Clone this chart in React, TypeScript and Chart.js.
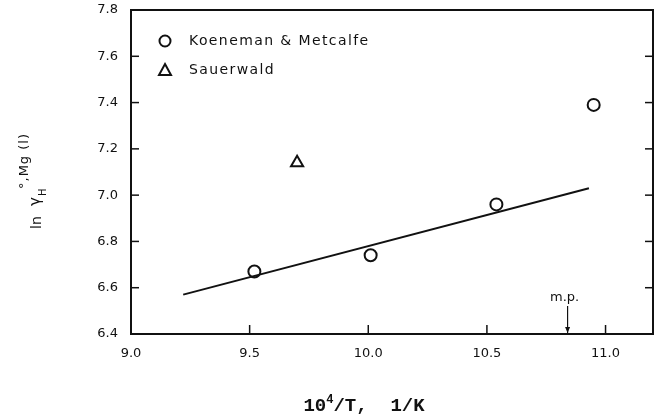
import { useEffect, useRef } from "react";
import { Chart, registerables } from "chart.js";

Chart.register(...registerables);

// ---- data ----
const X_TICKS = [9.0, 9.5, 10.0, 10.5, 11.0];
const Y_TICKS = [6.4, 6.6, 6.8, 7.0, 7.2, 7.4, 7.6, 7.8];
const X_MIN = 9.0;
const X_MAX = 11.2;
const Y_MIN = 6.4;
const Y_MAX = 7.8;

const SERIES_NAMES = ["Koeneman & Metcalfe", "Sauerwald"];
const KM_X = [9.52, 10.01, 10.54, 10.95];
const KM_Y = [6.67, 6.74, 6.96, 7.39];
const SAUER_X = [9.7];
const SAUER_Y = [7.14];
const FIT_X = [9.22, 10.93];
const FIT_Y = [6.57, 7.03];
const MELTING_POINT = 10.84;
const MP_LABEL = "m.p.";

const INK = "#111";

function pts(xs: number[], ys: number[]) {
  return xs.map((x, i) => ({ x, y: ys[i] }));
}

const decor = {
  id: "decor",
  afterDraw(chart: any) {
    const ctx: CanvasRenderingContext2D = chart.ctx;
    const a = chart.chartArea;
    const xs = chart.scales.x;
    const ys = chart.scales.y;
    const line = (x1: number, y1: number, x2: number, y2: number) => {
      ctx.beginPath();
      ctx.moveTo(x1, y1);
      ctx.lineTo(x2, y2);
      ctx.stroke();
    };
    ctx.save();
    ctx.strokeStyle = INK;
    ctx.fillStyle = INK;
    ctx.lineWidth = 2;
    ctx.strokeRect(a.left, a.top, a.right - a.left, a.bottom - a.top);

    // inward ticks
    ctx.lineWidth = 1.5;
    Y_TICKS.forEach((v) => {
      if (v <= Y_MIN || v >= Y_MAX) return;
      const y = ys.getPixelForValue(v);
      line(a.left, y, a.left + 8, y);
      line(a.right - 8, y, a.right, y);
    });
    X_TICKS.forEach((v) => {
      if (v <= X_MIN || v >= X_MAX) return;
      const x = xs.getPixelForValue(v);
      line(x, a.bottom, x, a.bottom - 9);
    });

    // melting point arrow
    const mx = xs.getPixelForValue(MELTING_POINT);
    ctx.lineWidth = 1.2;
    line(mx, a.bottom - 28, mx, a.bottom - 1);
    ctx.beginPath();
    ctx.moveTo(mx, a.bottom - 1);
    ctx.lineTo(mx - 2.5, a.bottom - 7);
    ctx.lineTo(mx + 2.5, a.bottom - 7);
    ctx.closePath();
    ctx.fill();
    ctx.font = "13px 'DejaVu Sans'";
    ctx.textAlign = "center";
    ctx.textBaseline = "alphabetic";
    ctx.fillText(MP_LABEL, mx - 3, a.bottom - 33);

    // legend
    ctx.lineWidth = 2;
    ctx.beginPath();
    ctx.arc(165, 41, 5.5, 0, Math.PI * 2);
    ctx.stroke();
    ctx.beginPath();
    ctx.moveTo(165, 64);
    ctx.lineTo(171, 75);
    ctx.lineTo(159, 75);
    ctx.closePath();
    ctx.stroke();
    ctx.font = "14px 'DejaVu Sans'";
    (ctx as any).letterSpacing = "1.4px";
    ctx.textAlign = "left";
    ctx.textBaseline = "middle";
    ctx.fillText(SERIES_NAMES[0], 189, 41);
    ctx.fillText(SERIES_NAMES[1], 189, 70);
    (ctx as any).letterSpacing = "0px";

    // x axis title
    const big = "bold 19px 'Liberation Mono'";
    const small = "bold 12px 'Liberation Mono'";
    ctx.textBaseline = "alphabetic";
    ctx.font = big;
    const w1 = ctx.measureText("10").width;
    const w3 = ctx.measureText("/T,  1/K").width;
    ctx.font = small;
    const w2 = ctx.measureText("4").width;
    const cx = 364;
    let x0 = cx - (w1 + w2 + w3) / 2;
    const base = 411;
    ctx.font = big;
    ctx.fillText("10", x0, base);
    x0 += w1;
    ctx.font = small;
    ctx.fillText("4", x0, base - 8);
    x0 += w2;
    ctx.font = big;
    ctx.fillText("/T,  1/K", x0, base);

    // y axis title (rotated)
    ctx.save();
    ctx.translate(41, 229);
    ctx.rotate(-Math.PI / 2);
    ctx.font = "14px 'DejaVu Sans'";
    ctx.fillText("ln", 0, 0);
    ctx.font = "15px 'DejaVu Sans'";
    ctx.fillText("γ", 23, -1);
    ctx.font = "10px 'DejaVu Sans'";
    ctx.fillText("H", 33, 5);
    ctx.font = "13px 'DejaVu Sans'";
    (ctx as any).letterSpacing = "1px";
    ctx.fillText("°,Mg (l)", 40, -13);
    (ctx as any).letterSpacing = "0px";
    ctx.restore();

    ctx.restore();
  },
};

const zeroPad = (s: any) => {
  s.paddingTop = 0;
  s.paddingBottom = 0;
  s.paddingLeft = 0;
  s.paddingRight = 0;
};

export default function App() {
  const ref = useRef<HTMLCanvasElement | null>(null);
  useEffect(() => {
    if (!ref.current) return;
    const tickFont = { family: "'DejaVu Sans'", size: 13 };
    const chart = new Chart(ref.current, {
      type: "scatter",
      data: {
        datasets: [
          {
            label: SERIES_NAMES[0],
            data: pts(KM_X, KM_Y),
            pointStyle: "circle",
            pointRadius: 6,
            borderWidth: 2,
            borderColor: INK,
            backgroundColor: "rgba(0,0,0,0)",
          },
          {
            label: SERIES_NAMES[1],
            data: pts(SAUER_X, SAUER_Y),
            pointStyle: "triangle",
            pointRadius: 7,
            borderWidth: 2,
            borderColor: INK,
            backgroundColor: "rgba(0,0,0,0)",
          },
          {
            label: "fit",
            data: pts(FIT_X, FIT_Y),
            showLine: true,
            pointRadius: 0,
            borderWidth: 2,
            borderColor: INK,
            backgroundColor: INK,
          },
        ],
      },
      options: {
        animation: false,
        responsive: true,
        maintainAspectRatio: false,
        layout: { autoPadding: false, padding: { left: 0, top: 10, right: 4, bottom: 0 } },
        plugins: { legend: { display: false }, tooltip: { enabled: false }, title: { display: false } },
        scales: {
          x: {
            type: "linear",
            min: X_MIN,
            max: X_MAX,
            afterBuildTicks: (s: any) => {
              s.ticks = X_TICKS.map((v) => ({ value: v }));
            },
            afterFit: (s: any) => {
              s.height = 83;
              zeroPad(s);
            },
            ticks: {
              callback: (v: any) => Number(v).toFixed(1),
              font: tickFont,
              color: INK,
              padding: 12,
              maxRotation: 0,
              autoSkip: false,
            },
            grid: { display: false, drawTicks: false },
            border: { display: false },
          },
          y: {
            type: "linear",
            min: Y_MIN,
            max: Y_MAX,
            afterBuildTicks: (s: any) => {
              s.ticks = Y_TICKS.map((v) => ({ value: v }));
            },
            afterFit: (s: any) => {
              s.width = 131;
              zeroPad(s);
            },
            ticks: {
              callback: (v: any) => Number(v).toFixed(1),
              font: tickFont,
              color: INK,
              padding: 13,
              autoSkip: false,
            },
            grid: { display: false, drawTicks: false },
            border: { display: false },
          },
        },
      },
      plugins: [decor],
    } as any);
    return () => chart.destroy();
  }, []);
  return (
    <div style={{ position: "absolute", left: 0, top: 0, width: 657, height: 417, background: "#fff" }}>
      <canvas ref={ref} />
    </div>
  );
}
